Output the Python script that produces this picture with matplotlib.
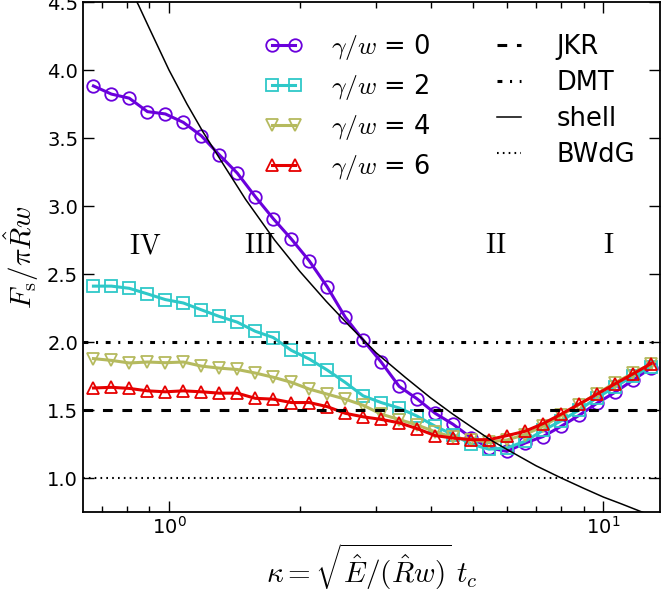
import matplotlib
matplotlib.use("Agg")
import matplotlib.pyplot as plt
import numpy as np

plt.rcParams['mathtext.fontset'] = 'cm'
plt.rcParams['font.family'] = ['DejaVu Sans']
plt.rcParams['lines.scale_dashes'] = False

# sample positions (kappa)
kappa = [0.670, 0.737, 0.810, 0.892, 0.981, 1.079, 1.187, 1.306, 1.436, 1.580,
         1.738, 1.912, 2.103, 2.313, 2.545, 2.799, 3.079, 3.387, 3.726, 4.099,
         4.508, 4.959, 5.455, 6.001, 6.601, 7.261, 7.988, 8.786, 9.665, 10.63,
         11.70, 12.87]

g0 = [3.883, 3.823, 3.793, 3.694, 3.677, 3.615, 3.516, 3.376, 3.242, 3.069,
      2.907, 2.758, 2.597, 2.406, 2.183, 2.014, 1.853, 1.674, 1.582, 1.476,
      1.395, 1.296, 1.222, 1.196, 1.257, 1.305, 1.38, 1.46, 1.55, 1.63,
      1.72, 1.81]
g2 = [2.411, 2.411, 2.395, 2.354, 2.312, 2.287, 2.237, 2.188, 2.146, 2.079,
      2.033, 1.939, 1.875, 1.794, 1.703, 1.604, 1.555, 1.515, 1.455, 1.381,
      1.319, 1.250, 1.212, 1.222, 1.27, 1.35, 1.42, 1.50, 1.59, 1.67,
      1.75, 1.82]
g4 = [1.878, 1.865, 1.846, 1.853, 1.848, 1.853, 1.823, 1.808, 1.798, 1.772,
      1.741, 1.704, 1.654, 1.617, 1.580, 1.535, 1.47, 1.43, 1.39, 1.34,
      1.30, 1.28, 1.265, 1.28, 1.32, 1.38, 1.46, 1.54, 1.62, 1.70,
      1.77, 1.84]
g6 = [1.662, 1.667, 1.659, 1.641, 1.634, 1.641, 1.634, 1.624, 1.624, 1.586,
      1.580, 1.555, 1.555, 1.525, 1.476, 1.450, 1.431, 1.406, 1.363, 1.312,
      1.294, 1.282, 1.282, 1.312, 1.344, 1.40, 1.469, 1.543, 1.617, 1.692,
      1.766, 1.841]

# shell curve
shell_x = [0.80, 0.85, 0.90, 1.0, 1.1, 1.2, 1.35, 1.5, 1.75, 2.0, 2.3, 2.6, 3.0,
           3.5, 4.0, 4.5, 5.0, 5.5, 6.0, 7.0, 8.0, 9.0, 10.0, 11.0, 12.5, 13.5]
shell_y = [4.64, 4.48, 4.31, 4.00, 3.75, 3.54, 3.28, 3.05, 2.75, 2.52, 2.30, 2.12, 1.92,
           1.74, 1.59, 1.47, 1.37, 1.28, 1.21, 1.09, 1.00, 0.925, 0.86, 0.81, 0.74, 0.70]

JKR, DMT, BWdG = 1.5, 2.0, 1.0

labels = [r'$\gamma/w$ = 0', r'$\gamma/w$ = 2', r'$\gamma/w$ = 4', r'$\gamma/w$ = 6']
colors = ['#6a00dc', '#2ec8c8', '#b5ba5e', '#e60000']
markers = ['o', 's', 'v', '^']
regions = ['IV', 'III', 'II', 'I']
region_x = [0.88, 1.62, 5.65, 10.3]
region_y = 2.71

fig = plt.figure(figsize=(6.62, 5.94), dpi=100)
ax = fig.add_axes([0.1254, 0.138, 0.8716, 0.8586])

series = [g0, g2, g4, g6]
handles = []
for ys, c, m, lab in zip(series, colors, markers, labels):
    ln, = ax.plot(kappa, ys, color=c, lw=2.2, marker=m, ms=9, mfc='none', mec=c,
                  mew=1.3, label=lab)
    handles.append(ln)

handles.append(ax.axhline(JKR, color='k', lw=2.2, ls=(0, (7, 7))))
handles.append(ax.axhline(DMT, color='k', lw=2.2, ls=(0, (3.5, 5.5, 1.5, 5.5))))
sh, = ax.plot(shell_x, shell_y, color='k', lw=1.1)
handles.append(sh)
handles.append(ax.axhline(BWdG, color='k', lw=1.5, ls=(0, (1.2, 3))))

for t, x in zip(regions, region_x):
    ax.text(x, region_y, r'$\mathrm{%s}$' % t, fontsize=20, ha='center', va='center')

ax.set_xscale('log')
ax.set_xlim(0.634, 13.5)
ax.set_ylim(0.75, 4.5)
ax.set_yticks([1.0, 1.5, 2.0, 2.5, 3.0, 3.5, 4.0, 4.5])
ax.set_yticklabels(['1.0', '1.5', '2.0', '2.5', '3.0', '3.5', '4.0', '4.5'])
ax.tick_params(which='both', direction='in', top=True, right=True, labelsize=14)
ax.tick_params(which='major', length=8, width=1)
ax.tick_params(which='minor', length=4, width=1)
ax.tick_params(axis='x', pad=3)
for s in ax.spines.values():
    s.set_linewidth(1.3)

ax.set_ylabel(r'$F_\mathrm{s}/\pi\hat{R}w$', fontsize=21, labelpad=4)
ax.set_xlabel(r'$\kappa=\sqrt{\hat{E}/(\hat{R}w)}\;t_c$', fontsize=21, labelpad=3)

leg_labels = labels + ['JKR', 'DMT', 'shell', 'BWdG']
leg = ax.legend(handles, leg_labels,
                ncol=2, loc='upper right', frameon=False, fontsize=18.5, numpoints=2,
                handlelength=1.5, handletextpad=1.1, columnspacing=2.3,
                labelspacing=0.39, borderpad=0, borderaxespad=0,
                bbox_to_anchor=(0.957, 0.942))

fig.savefig('out.png', dpi=100)
